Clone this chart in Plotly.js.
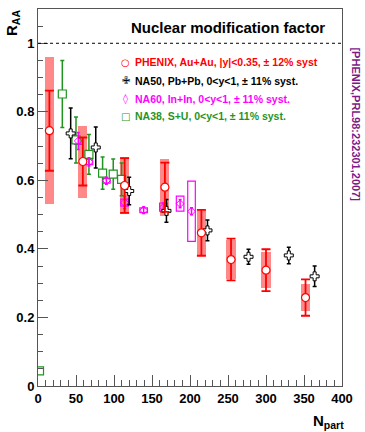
<!DOCTYPE html>
<html>
<head>
<meta charset="utf-8">
<script src="https://cdn.plot.ly/plotly-3.0.1.min.js"></script>
<style>
  html, body { margin: 0; padding: 0; background: #fff; }
  #chart { width: 365px; height: 432px; }
</style>
</head>
<body>
<div id="chart"></div>
<script>
// J/psi nuclear modification factor vs number of participants

// PHENIX Au+Au, |y|<0.35
const phenixNpart = [15, 59, 114, 167, 215, 254, 300, 352];
const phenixRaa   = [0.745, 0.655, 0.585, 0.580, 0.447, 0.369, 0.338, 0.258];
const phenixStat  = [0.117, 0.070, 0.080, 0.072, 0.067, 0.061, 0.061, 0.053];
const phenixSyst  = [0.215, 0.105, 0.083, 0.083, 0.067, 0.056, 0.052, 0.040];

// NA50 Pb+Pb, 0<y<1
const na50Npart = [43, 76, 120, 169, 223, 277, 330, 364];
const na50Raa   = [0.737, 0.696, 0.569, 0.511, 0.454, 0.377, 0.381, 0.320];
const na50Err   = [0.074, 0.060, 0.040, 0.033, 0.030, 0.022, 0.024, 0.030];

// NA60 In+In, 0<y<1
const na60Npart = [53, 67, 90, 114, 139, 165, 187, 202];
const na60Raa   = [0.715, 0.654, 0.599, 0.535, 0.513, 0.522, 0.532, 0.510];
const na60Stat  = [0.025, 0.012, 0.010, 0.018, 0.010, 0.012, 0.012, 0.010];
const na60Syst  = [0.010, 0.008, 0.007, 0.010, 0.007, 0.012, 0.022, 0.088];

// NA38 S+U, 0<y<1
const na38Npart = [2, 32, 50, 67, 85, 99, 110];
const na38Raa   = [0.044, 0.852, 0.718, 0.676, 0.621, 0.618, 0.603];
const na38Err   = [0.005, 0.098, 0.067, 0.058, 0.047, 0.044, 0.048];

// Legend lines
const legendLabels = [
  'PHENIX, Au+Au, |y|<0.35, ± 12% syst',
  'NA50, Pb+Pb, 0<y<1, ± 11% syst.',
  'NA60, In+In, 0<y<1, ± 11% syst.',
  'NA38, S+U, 0<y<1, ± 11% syst.'
];
const legendSymbols = ['○', '✙', '◊', '□'];

const RED = '#ff0000', BLACK = '#000000', MAGENTA = '#ff00ff', GREEN = '#1f951f';
const PURPLE = '#7d1a88';
const SANS = 'Liberation Sans, Arial, sans-serif';
const DEJAVU = 'DejaVu Sans, sans-serif';

// Systematic boxes as bars spanning value ± syst
const phenixBoxes = {
  type: 'bar', x: phenixNpart,
  y: phenixSyst.map(s => 2 * s),
  base: phenixRaa.map((v, i) => v - phenixSyst[i]),
  width: 12,
  marker: { color: 'rgba(255,40,40,0.55)', line: { width: 0 } },
  hoverinfo: 'skip', showlegend: false
};
const na60Boxes = {
  type: 'bar', x: na60Npart,
  y: na60Syst.map(s => 2 * s),
  base: na60Raa.map((v, i) => v - na60Syst[i]),
  width: 10,
  marker: { color: 'rgba(0,0,0,0)', line: { color: MAGENTA, width: 1.2 } },
  hoverinfo: 'skip', showlegend: false
};

const phenixPts = {
  type: 'scatter', mode: 'markers', x: phenixNpart, y: phenixRaa,
  error_y: { type: 'data', array: phenixStat, color: RED, thickness: 1.8, width: 4.5 },
  marker: { symbol: 'circle', size: 8, color: '#ffffff', line: { color: RED, width: 1.2 } },
  showlegend: false
};
const na38Pts = {
  type: 'scatter', mode: 'markers', x: na38Npart, y: na38Raa,
  error_y: { type: 'data', array: na38Err, color: GREEN, thickness: 1.5, width: 2 },
  marker: { symbol: 'square', size: 8, color: '#ffffff', line: { color: GREEN, width: 1.2 } },
  showlegend: false
};
const na60Pts = {
  type: 'scatter', mode: 'markers', x: na60Npart, y: na60Raa,
  error_y: { type: 'data', array: na60Stat, color: MAGENTA, thickness: 1.5, width: 1.5 },
  marker: { symbol: 'diamond-open', size: 6, color: MAGENTA, line: { width: 1 } },
  showlegend: false
};
const na50Pts = {
  type: 'scatter', mode: 'markers', x: na50Npart, y: na50Raa,
  error_y: { type: 'data', array: na50Err, color: BLACK, thickness: 1.5, width: 2 },
  marker: { symbol: 'cross', size: 7.5, color: '#ffffff', line: { color: BLACK, width: 1 } },
  showlegend: false
};

const legendColors = [RED, BLACK, MAGENTA, GREEN];
const legendY = [0.859, 0.81, 0.762, 0.716];

const annotations = [];
legendLabels.forEach((t, i) => {
  annotations.push({
    xref: 'paper', yref: 'paper', x: 0.288, y: legendY[i],
    xanchor: 'center', yanchor: 'middle', showarrow: false,
    text: legendSymbols[i],
    font: { family: DEJAVU, size: 10, color: legendColors[i] }
  });
  annotations.push({
    xref: 'paper', yref: 'paper', x: 0.312, y: legendY[i],
    xanchor: 'left', yanchor: 'middle', showarrow: false,
    text: t,
    font: { family: SANS, size: 10.5, weight: 'bold', color: legendColors[i] }
  });
});
annotations.push({
  xref: 'paper', yref: 'paper', x: 0.625, y: 0.952,
  xanchor: 'center', yanchor: 'middle', showarrow: false,
  text: 'Nuclear modification factor',
  font: { family: SANS, size: 15, weight: 'bold', color: '#000' }
});
annotations.push({
  xref: 'paper', yref: 'paper', x: -0.082, y: 0.963,
  xanchor: 'center', yanchor: 'middle', showarrow: false, textangle: -90,
  text: 'R<sub>AA</sub>',
  font: { family: SANS, size: 15, weight: 'bold', color: '#000' }
});
annotations.push({
  xref: 'paper', yref: 'paper', x: 0.954, y: -0.095,
  xanchor: 'center', yanchor: 'middle', showarrow: false,
  text: 'N<sub>part</sub>',
  font: { family: SANS, size: 15, weight: 'bold', color: '#000' }
});
annotations.push({
  xref: 'paper', yref: 'paper', x: 1.047, y: 0.693,
  xanchor: 'center', yanchor: 'middle', showarrow: false, textangle: 90,
  text: '[PHENIX,PRL98:232301,2007]',
  font: { family: SANS, size: 11, weight: 'bold', color: PURPLE }
});

const layout = {
  width: 365, height: 432,
  margin: { l: 38, r: 23, t: 9, b: 46, pad: 0 },
  paper_bgcolor: '#ffffff', plot_bgcolor: '#ffffff',
  barmode: 'overlay', bargap: 0,
  showlegend: false,
  xaxis: {
    range: [0, 400], dtick: 50, tick0: 0,
    ticks: 'inside', ticklen: 11, tickwidth: 1, tickcolor: '#555',
    minor: { dtick: 10, ticks: 'inside', ticklen: 6, tickcolor: '#555', tickwidth: 1 },
    showgrid: false, zeroline: false,
    showline: true, linecolor: '#555', linewidth: 1, mirror: true,
    tickfont: { family: SANS, size: 13, weight: 'bold', color: '#000' }
  },
  yaxis: {
    range: [0, 1.1], dtick: 0.2, tick0: 0,
    ticks: 'inside', ticklen: 10, tickwidth: 1, tickcolor: '#555',
    minor: { dtick: 0.05, ticks: 'inside', ticklen: 5, tickcolor: '#555', tickwidth: 1 },
    showgrid: false, zeroline: false,
    showline: true, linecolor: '#555', linewidth: 1, mirror: true,
    tickfont: { family: SANS, size: 13, weight: 'bold', color: '#000' }
  },
  shapes: [{
    type: 'line', xref: 'paper', yref: 'y', x0: 0, x1: 1, y0: 1, y1: 1,
    line: { color: '#000', width: 1, dash: 'dot' }
  }],
  annotations: annotations
};

Plotly.newPlot('chart', [phenixBoxes, na60Boxes, na38Pts, na60Pts, na50Pts, phenixPts], layout,
  { displayModeBar: false, staticPlot: true });
</script>
</body>
</html>
